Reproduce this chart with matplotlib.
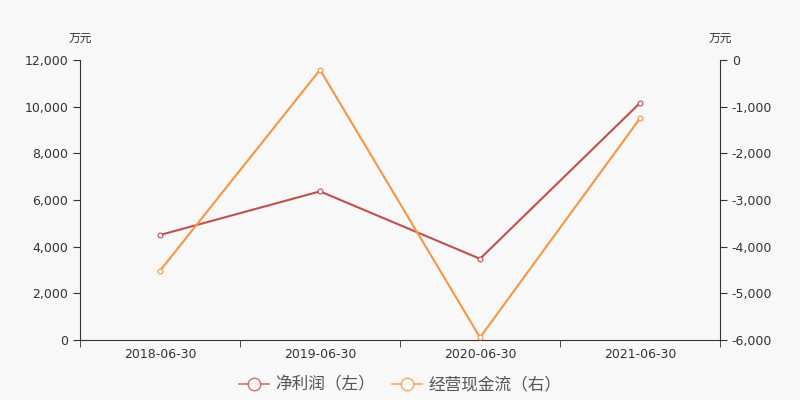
import matplotlib.pyplot as plt
from matplotlib.ticker import FuncFormatter, FixedLocator
from matplotlib.lines import Line2D

plt.rcParams['font.family'] = ['DejaVu Sans', 'Noto Sans CJK SC']

dates = ['2018-06-30', '2019-06-30', '2020-06-30', '2021-06-30']
net_profit = [4500, 6370, 3480, 10160]      # 左轴 万元
op_cash = [-4515, -210, -5945, -1250]       # 右轴 万元

c_net = '#c0504d'
c_cash = '#f79646'
bg = '#f8f8f8'
axc = '#333333'

fig = plt.figure(figsize=(8, 4), dpi=100, facecolor=bg)
ax = fig.add_axes([0.1, 0.15, 0.8, 0.70], facecolor=bg)
ax2 = ax.twinx()

x = list(range(len(dates)))
ax.plot(x, net_profit, color=c_net, lw=1.5, marker='o', ms=3.5,
        mfc='white', mec=c_net, mew=0.8, zorder=3)
ax2.plot(x, op_cash, color=c_cash, lw=1.5, marker='o', ms=3.5,
         mfc='white', mec=c_cash, mew=0.8, zorder=3)

ax.set_xlim(-0.5, 3.5)
ax.set_ylim(0, 12000)
ax2.set_ylim(-6000, 0)
ax.set_yticks(range(0, 12001, 2000))
ax2.set_yticks(range(-6000, 1, 1000))
fmt = FuncFormatter(lambda v, p: f'{int(v):,}')
ax.yaxis.set_major_formatter(fmt)
ax2.yaxis.set_major_formatter(fmt)

ax.set_xticks(x)
ax.set_xticklabels(dates)
ax.xaxis.set_minor_locator(FixedLocator([-0.5, 0.5, 1.5, 2.5, 3.5]))
ax.tick_params(axis='x', which='major', length=0, pad=6, labelsize=9, labelcolor=axc)
ax.tick_params(axis='x', which='minor', length=5, color=axc)
ax.tick_params(axis='y', length=5, color=axc, labelsize=9, labelcolor=axc)
ax2.tick_params(axis='y', length=5, color=axc, labelsize=9, labelcolor=axc)

for a in (ax, ax2):
    a.spines['top'].set_visible(False)
    for s in ('left', 'right', 'bottom'):
        a.spines[s].set_color(axc)
ax.spines['right'].set_visible(False)
ax2.spines['left'].set_visible(False)
ax2.spines['bottom'].set_visible(False)

fig.text(0.1, 0.903, '万元', ha='center', va='center', fontsize=8.5,
         color=axc, family=['Noto Sans CJK SC'])
fig.text(0.9, 0.903, '万元', ha='center', va='center', fontsize=8.5,
         color=axc, family=['Noto Sans CJK SC'])

handles = [
    Line2D([], [], color=c_net, lw=1.2, alpha=0.8, marker='o', ms=9,
           mfc='white', mec=c_net),
    Line2D([], [], color=c_cash, lw=1.2, alpha=0.8, marker='o', ms=9,
           mfc='white', mec=c_cash),
]
fig.legend(handles, ['净利润（左）', '经营现金流（右）'], loc='center',
           bbox_to_anchor=(0.5, 0.037), ncol=2, frameon=False,
           prop={'family': 'Noto Sans CJK SC', 'size': 12},
           labelcolor='#555555', handlelength=1.8, columnspacing=1.0,
           handletextpad=0.4)

fig.savefig('out.png', facecolor=bg)
